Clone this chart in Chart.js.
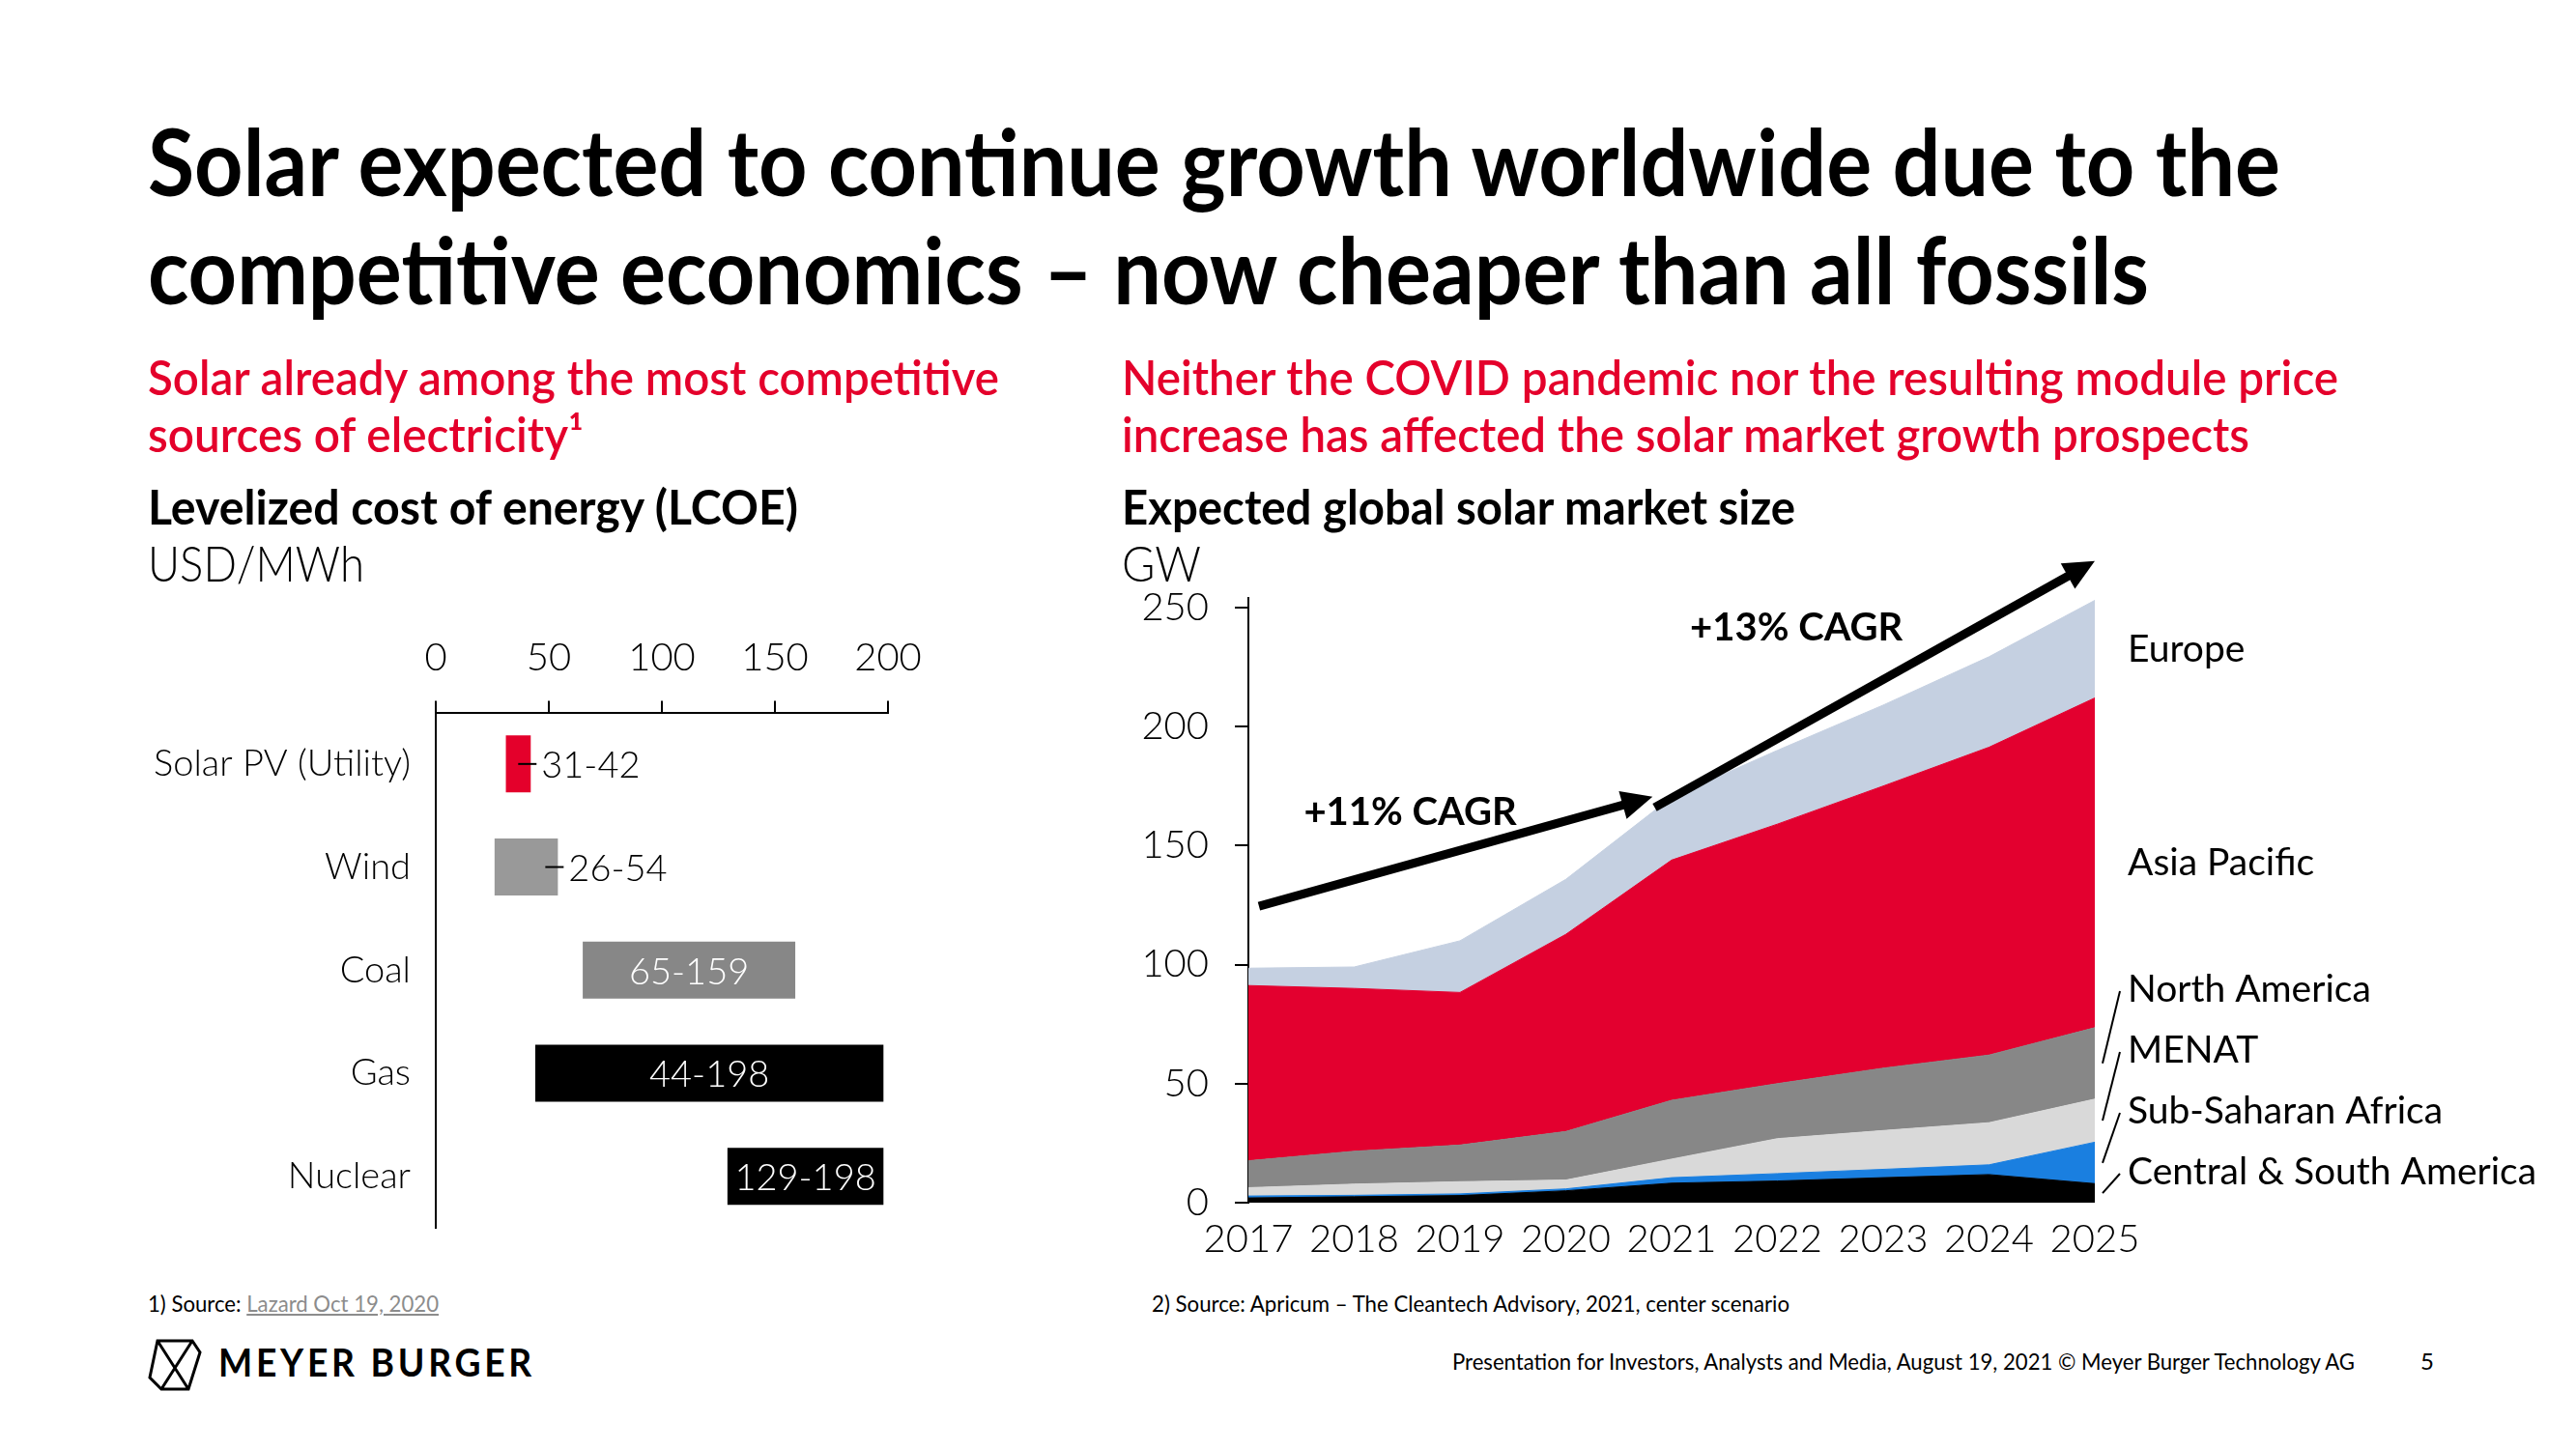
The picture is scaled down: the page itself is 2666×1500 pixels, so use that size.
<!DOCTYPE html>
<html>
<head>
<meta charset="utf-8">
<title>Solar expected to continue growth worldwide</title>
<script src="https://cdn.jsdelivr.net/npm/chart.js@4.4.1/dist/chart.umd.min.js"></script>
<style>
  html, body { margin: 0; padding: 0; background: #fff; }
  body { width: 2666px; height: 1500px; position: relative; overflow: hidden; font-family: Lato, 'Open Sans', sans-serif; color: #000; }
  .t { position: absolute; white-space: nowrap; line-height: 1; transform-origin: 0 0; }
  .red { color: #e4002b; font-weight: 600; font-size: 50px; }
  .head { font-weight: 700; font-size: 50px; }
  .unit { font-weight: 300; font-size: 52px; }
  .note { font-weight: 400; font-size: 24px; }
  canvas { position: absolute; }
</style>
</head>
<body>

<!-- Заголовок -->
<div class="t" data-b="203" data-w="2207" style="left:153px;font-size:95px;font-weight:700">Solar expected to continue growth worldwide due to the</div>
<div class="t" data-b="315" data-w="2071" style="left:153px;font-size:95px;font-weight:700">competitive economics – now cheaper than all fossils</div>

<!-- Левая часть -->
<div class="t red" data-b="409" data-w="881" style="left:153px">Solar already among the most competitive</div>
<div class="t red" data-b="468" data-w="451" style="left:153px">sources of electricity¹</div>
<div class="t head" data-b="543" data-w="673" style="left:153px">Levelized cost of energy (LCOE)</div>
<div class="t unit" data-b="602" data-w="224" style="left:153px">USD/MWh</div>

<!-- Правая часть -->
<div class="t red" data-b="409" data-w="1259" style="left:1161px">Neither the COVID pandemic nor the resulting module price</div>
<div class="t red" data-b="468" data-w="1167" style="left:1161px">increase has affected the solar market growth prospects</div>
<div class="t head" data-b="543" data-w="697" style="left:1161px">Expected global solar market size</div>
<div class="t unit" data-b="602" data-w="82" style="left:1161px">GW</div>

<!-- Графики -->
<canvas id="lcoeChart" width="900" height="700" style="left:130px;top:620px"></canvas>
<canvas id="marketChart" width="1516" height="760" style="left:1150px;top:560px"></canvas>

<!-- Подвал -->
<div class="t note" data-b="1358" data-w="301" style="left:153px">1) Source: <span style="color:#8c8c8c;text-decoration:underline">Lazard Oct 19, 2020</span></div>
<div class="t note" data-b="1358" data-w="660" style="left:1192px">2) Source: Apricum – The Cleantech Advisory, 2021, center scenario</div>
<div class="t note" data-b="1418" data-w="934" style="left:1503px">Presentation for Investors, Analysts and Media, August 19, 2021 © Meyer Burger Technology AG</div>
<div class="t note" data-b="1418" style="left:2505px">5</div>

<svg style="position:absolute;left:153px;top:1386px" width="56" height="54" viewBox="0 0 56 54">
  <path d="M10 2 H46 L54 14 L42 52 H14 L2 40 Z M10 2 L42 52 M46 2 L14 52 M2 40 L10 2 M54 14 L46 2" fill="none" stroke="#000" stroke-width="3" stroke-linejoin="miter"/>
</svg>
<div class="t" data-b="1425" data-w="328" style="left:226px;font-size:40px;font-weight:700;letter-spacing:4px">MEYER BURGER</div>

<script>
// Данные: LCOE, USD/MWh
const lcoeCategories = ['Solar PV (Utility)', 'Wind', 'Coal', 'Gas', 'Nuclear'];
const lcoeLow = [31, 26, 65, 44, 129];
const lcoeHigh = [42, 54, 159, 198, 198];
const lcoeTicks = [0, 50, 100, 150, 200];

// Данные: рынок солнечной энергии, GW
const years = ['2017', '2018', '2019', '2020', '2021', '2022', '2023', '2024', '2025'];
const centralSouthAmerica = [2.0, 2.5, 3.0, 5.0, 8.2, 9.1, 10.5, 11.8, 8.0];
const subSaharanAfrica = [0.8, 0.6, 0.7, 0.8, 2.3, 3.1, 3.5, 4.1, 17.4];
const menat = [3.5, 4.7, 5.1, 3.7, 7.8, 14.7, 16.3, 17.7, 18.1];
const northAmerica = [11.3, 13.8, 15.4, 20.4, 24.7, 23.1, 26.2, 28.4, 30.0];
const asiaPacific = [73.6, 68.4, 64.1, 82.8, 100.9, 109.0, 118.5, 129.3, 138.5];
const europe = [7.3, 9.0, 21.7, 23.1, 26.4, 31.0, 34.0, 38.0, 41.0];
const gwTicks = [0, 50, 100, 150, 200, 250];

// Подгоняем ширину текстовых блоков
function fitText() {
    document.querySelectorAll('.t').forEach(el => {
        const size = parseFloat(getComputedStyle(el).fontSize);
        el.style.top = (parseFloat(el.dataset.b) - 0.887 * size) + 'px';
        if (el.dataset.w) {
            el.style.transform = 'none';
            const natural = el.getBoundingClientRect().width;
            el.style.transform = 'scaleX(' + (parseFloat(el.dataset.w) / natural) + ')';
        }
    });
}
fitText();

const lightFont = { family: 'Lato', weight: 300, size: 40 };

// Подписи к столбцам LCOE
const rangeLabels = {
    id: 'rangeLabels',
    afterDatasetsDraw(chart) {
        const ctx = chart.ctx;
        const meta = chart.getDatasetMeta(0);
        ctx.save();
        ctx.font = '300 38px Lato';
        ctx.textBaseline = 'middle';
        meta.data.forEach((bar, i) => {
            const text = lcoeLow[i] + '-' + lcoeHigh[i];
            const w = ctx.measureText(text).width;
            const left = Math.min(bar.x, bar.base);
            const right = Math.max(bar.x, bar.base);
            if (w + 4 < right - left) {
                ctx.fillStyle = '#fff';
                ctx.textAlign = 'center';
                ctx.fillText(text, (left + right) / 2, bar.y + 2);
            } else {
                ctx.strokeStyle = '#000';
                ctx.lineWidth = 2;
                ctx.beginPath();
                ctx.moveTo(right - 13, bar.y);
                ctx.lineTo(right + 6, bar.y);
                ctx.stroke();
                ctx.fillStyle = '#000';
                ctx.textAlign = 'left';
                ctx.fillText(text, right + 11, bar.y + 2);
            }
        });
        ctx.restore();
    }
};

new Chart(document.getElementById('lcoeChart'), {
    type: 'bar',
    data: {
        labels: lcoeCategories,
        datasets: [{
            data: lcoeCategories.map((c, i) => [lcoeLow[i], lcoeHigh[i]]),
            backgroundColor: ['#e4002b', '#999999', '#878787', '#000000', '#000000'],
            barPercentage: 0.553,
            categoryPercentage: 1
        }]
    },
    options: {
        indexAxis: 'y',
        responsive: false,
        animation: false,
        layout: { padding: { left: 0, top: 0, right: 111, bottom: 49 } },
        plugins: { legend: { display: false }, tooltip: { enabled: false } },
        scales: {
            x: {
                position: 'top',
                min: 0,
                max: 200,
                afterBuildTicks: s => { s.ticks = lcoeTicks.map(v => ({ value: v })); },
                afterFit: s => { s.height = 117.5; },
                ticks: { font: lightFont, color: '#000', padding: 20, maxRotation: 0 },
                grid: { drawOnChartArea: false, drawTicks: true, tickLength: 12, color: '#000', lineWidth: 2 },
                border: { display: true, color: '#000', width: 2 }
            },
            y: {
                afterFit: s => { s.width = 321; },
                ticks: { font: { family: 'Lato', weight: 300, size: 38 }, color: '#000', padding: 26 },
                grid: { display: false, drawTicks: false },
                border: { display: true, color: '#000', width: 2 }
            }
        }
    },
    plugins: [rangeLabels]
});

// Регионы (снизу вверх)
const regions = [
    { label: 'Central & South America', data: centralSouthAmerica, color: '#000000' },
    { label: 'Sub-Saharan Africa', data: subSaharanAfrica, color: '#1a7fe0' },
    { label: 'MENAT', data: menat, color: '#d9d9d9' },
    { label: 'North America', data: northAmerica, color: '#878787' },
    { label: 'Asia Pacific', data: asiaPacific, color: '#e3002f' },
    { label: 'Europe', data: europe, color: '#c5d0e1' }
];

// Стрелки CAGR
const cagrArrows = [
    { label: '+11% CAGR', from: [0.1, 124.5], to: [3.82, 170.5], at: [1.53, 163.7] },
    { label: '+13% CAGR', from: [3.84, 166], to: [8.0, 269.5], at: [5.18, 241.2] }
];

function drawArrow(ctx, x1, y1, x2, y2) {
    const ang = Math.atan2(y2 - y1, x2 - x1);
    const head = 32, half = 15;
    const bx = x2 - head * Math.cos(ang), by = y2 - head * Math.sin(ang);
    ctx.strokeStyle = '#000';
    ctx.lineWidth = 9;
    ctx.lineCap = 'butt';
    ctx.beginPath();
    ctx.moveTo(x1, y1);
    ctx.lineTo(bx + 2 * Math.cos(ang), by + 2 * Math.sin(ang));
    ctx.stroke();
    ctx.fillStyle = '#000';
    ctx.beginPath();
    ctx.moveTo(x2, y2);
    ctx.lineTo(bx - half * Math.sin(ang), by + half * Math.cos(ang));
    ctx.lineTo(bx + half * Math.sin(ang), by - half * Math.cos(ang));
    ctx.closePath();
    ctx.fill();
}

const marketAnnotations = {
    id: 'marketAnnotations',
    afterDatasetsDraw(chart) {
        const { ctx, chartArea, scales: { x, y } } = chart;
        ctx.save();
        cagrArrows.forEach(a => {
            drawArrow(ctx, x.getPixelForValue(a.from[0]), y.getPixelForValue(a.from[1]),
                x.getPixelForValue(a.to[0]), y.getPixelForValue(a.to[1]));
            ctx.font = '700 40px Lato';
            ctx.fillStyle = '#000';
            ctx.textAlign = 'center';
            ctx.textBaseline = 'middle';
            ctx.fillText(a.label, x.getPixelForValue(a.at[0]), y.getPixelForValue(a.at[1]));
        });

        // Подписи регионов справа
        const last = years.length - 1;
        const labelX = chartArea.right + 34;
        const zero = y.getPixelForValue(0);
        ctx.font = '400 39px Lato';
        ctx.textAlign = 'left';
        ctx.textBaseline = 'middle';
        ctx.fillStyle = '#000';
        regions.forEach((r, i) => {
            const top = chart.getDatasetMeta(i).data[last].y;
            const bottom = i === 0 ? zero : chart.getDatasetMeta(i - 1).data[last].y;
            const mid = (top + bottom) / 2;
            if (i >= 4) {
                ctx.fillText(r.label, labelX, mid);
            } else {
                const ly = zero - 32 - i * 63;
                ctx.fillText(r.label, labelX, ly);
                ctx.strokeStyle = '#000';
                ctx.lineWidth = 2;
                ctx.beginPath();
                ctx.moveTo(labelX - 8, ly + 2);
                ctx.lineTo(chartArea.right + 8, mid);
                ctx.stroke();
            }
        });
        ctx.restore();
    }
};

new Chart(document.getElementById('marketChart'), {
    type: 'line',
    data: {
        labels: years,
        datasets: regions.map((r, i) => ({
            label: r.label,
            data: r.data,
            backgroundColor: r.color,
            borderColor: r.color,
            borderWidth: 1,
            pointRadius: 0,
            tension: 0,
            fill: i === 0 ? 'origin' : '-1',
            clip: false
        }))
    },
    options: {
        responsive: false,
        animation: false,
        layout: { padding: { left: 0, top: 59, right: 498, bottom: 0 } },
        plugins: { legend: { display: false }, tooltip: { enabled: false } },
        scales: {
            x: {
                afterFit: s => { s.height = 75; },
                ticks: { font: lightFont, color: '#000', padding: 14, maxRotation: 0, autoSkip: false },
                grid: { display: false, drawTicks: false },
                border: { display: false }
            },
            y: {
                stacked: true,
                min: 0,
                max: 254,
                afterBuildTicks: s => { s.ticks = gwTicks.map(v => ({ value: v })); },
                afterFit: s => { s.width = 142; },
                ticks: { font: lightFont, color: '#000', padding: 27 },
                grid: { drawOnChartArea: false, drawTicks: true, tickLength: 14, color: '#000', lineWidth: 2 },
                border: { display: true, color: '#000', width: 2 }
            }
        }
    },
    plugins: [marketAnnotations]
});

if (document.fonts && document.fonts.ready) {
    document.fonts.ready.then(fitText);
}
</script>
</body>
</html>
